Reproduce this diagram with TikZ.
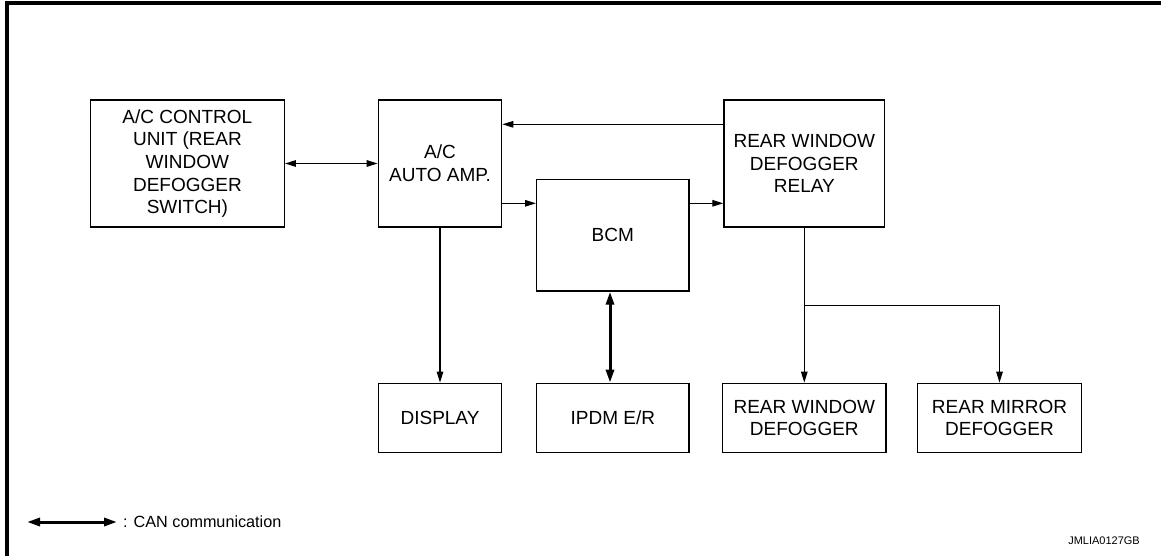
\documentclass[tikz,border=0pt]{standalone}
\usepackage{fontspec}
\setmainfont{Liberation Sans}
\usetikzlibrary{arrows.meta}
\begin{document}
\begin{tikzpicture}[x=1pt,y=-1pt,
  box/.style={draw,line width=1.3pt,inner sep=0pt,align=center,
    font=\fontsize{19}{22.6}\selectfont},
  arr/.style={line width=1.3pt,-{Triangle[length=11pt,width=6.5pt]}},
  cana/.style={line width=3pt,{Triangle[length=13pt,width=8pt]}-{Triangle[length=13pt,width=8pt]}},
  thinboth/.style={line width=1.3pt,{Triangle[length=11pt,width=6.5pt]}-{Triangle[length=11pt,width=6.5pt]}},
  lbl/.style={inner sep=0pt}]
\useasboundingbox (0,0) rectangle (1161,556);
\draw[line width=3.6pt] (6.7,556) -- (6.7,3.3) -- (1161,3.3);

\node[box,minimum width=193.8pt,minimum height=127pt] (ctrl) at (187.4,163.5)
  {A/C CONTROL\\UNIT (REAR\\WINDOW\\DEFOGGER\\SWITCH)};
\node[box,minimum width=123.4pt,minimum height=126.7pt] (amp) at (440,163.5)
  {A/C\\AUTO AMP.};
\node[box,minimum width=152.3pt,minimum height=111.7pt] (bcm) at (612.8,235.2) {BCM};
\node[box,minimum width=160.7pt,minimum height=126.7pt] (relay) at (804.3,163.5)
  {REAR WINDOW\\DEFOGGER\\RELAY};
\node[box,minimum width=123.4pt,minimum height=69pt] (disp) at (440,417.8) {DISPLAY};
\node[box,minimum width=152.3pt,minimum height=69pt] (ipdm) at (612.8,417.8) {IPDM E/R};
\node[box,minimum width=163.3pt,minimum height=69pt] (rwd) at (804.3,417.8)
  {REAR WINDOW\\DEFOGGER};
\node[box,minimum width=163.6pt,minimum height=69pt] (rmd) at (999.5,417.8)
  {REAR MIRROR\\DEFOGGER};

\coordinate (yA) at (0,124.3);
\coordinate (yB) at (0,203.3);
\coordinate (xC) at (610,0);
\coordinate (yD) at (0,305.7);

\draw[thinboth] (ctrl.east) -- (amp.west);
\draw[arr] (relay.west |- yA) -- (amp.east |- yA);
\draw[arr] (amp.east |- yB) -- (bcm.west |- yB);
\draw[arr] (bcm.east |- yB) -- (relay.west |- yB);
\draw[arr] (amp.south) -- (disp.north);
\draw[cana] (bcm.south -| xC) -- (ipdm.north -| xC);
\draw[arr] (relay.south) -- (rwd.north);
\draw[arr] (relay.south |- yD) -| (rmd.north);

\coordinate (la) at (27,522);
\coordinate (lb) at (117,522);
\draw[cana] (la) -- (lb);
\node[lbl,anchor=west,font=\fontsize{16.2}{18}\selectfont] (leg) at (123,522) {: CAN communication};
\node[lbl,anchor=east,font=\fontsize{11}{13}\selectfont] (code) at (1140,541) {JMLIA0127GB};
\end{tikzpicture}
\end{document}
